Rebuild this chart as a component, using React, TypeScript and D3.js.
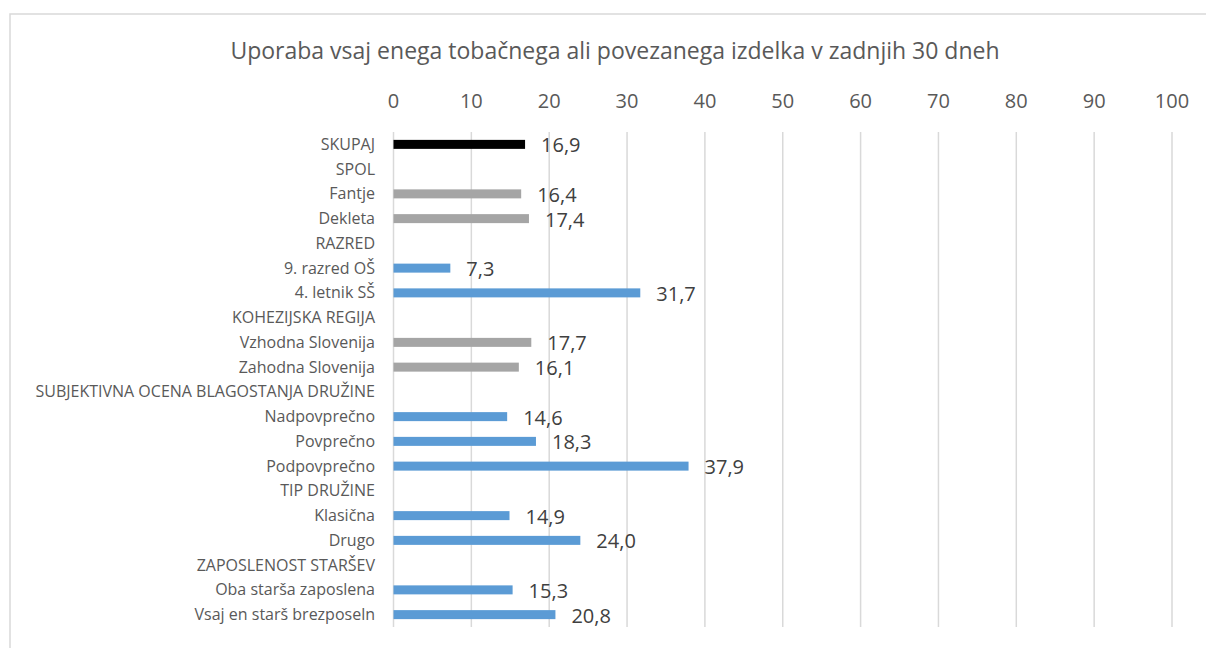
import * as d3 from 'd3';

const title = 'Uporaba vsaj enega tobačnega ali povezanega izdelka v zadnjih 30 dneh';

const categories = [
  'SKUPAJ', 'SPOL', 'Fantje', 'Dekleta', 'RAZRED', '9. razred OŠ', '4. letnik SŠ',
  'KOHEZIJSKA REGIJA', 'Vzhodna Slovenija', 'Zahodna Slovenija',
  'SUBJEKTIVNA OCENA BLAGOSTANJA DRUŽINE', 'Nadpovprečno', 'Povprečno', 'Podpovprečno',
  'TIP DRUŽINE', 'Klasična', 'Drugo', 'ZAPOSLENOST STARŠEV',
  'Oba starša zaposlena', 'Vsaj en starš brezposeln',
];

const values: (number | null)[] = [
  16.9, null, 16.4, 17.4, null, 7.3, 31.7,
  null, 17.7, 16.1,
  null, 14.6, 18.3, 37.9,
  null, 14.9, 24.0, null,
  15.3, 20.8,
];

// colour group of each row: total, grey, blue
const groups = [
  'total', '', 'grey', 'grey', '', 'blue', 'blue',
  '', 'grey', 'grey',
  '', 'blue', 'blue', 'blue',
  '', 'blue', 'blue', '',
  'blue', 'blue',
];

const ticks = [0, 10, 20, 30, 40, 50, 60, 70, 80, 90, 100];

const colors = { total: '#000000', grey: '#a5a5a5', blue: '#5b9bd5' };

const App = () => {
  const width = 1206;
  const height = 648;
  const left = 393.5;
  const right = 1172;
  const top = 132;
  const bottom = 627;

  const xScale = d3.scaleLinear().domain([0, 100]).range([left, right]);
  const yScale = d3.scaleBand().domain(categories).range([top, bottom]).paddingInner(0);
  const barH = 9;
  const font = "'Open Sans', sans-serif";
  const fmt = (v: number) => v.toFixed(1).replace('.', ',');

  return (
    <div style={{ position: 'fixed', left: 0, top: 0 }}>
      <svg width={width} height={height} style={{ display: 'block', background: '#fff' }}>
        <rect x={10} y={14} width={1210} height={700} fill="#fff" stroke="#d9d9d9" strokeWidth={1.5} />
        <text x={615} y={59} textAnchor="middle" fontFamily={font} fontSize={23} fill="#595959">
          {title}
        </text>
        {ticks.map((t) => (
          <g key={t}>
            <line x1={xScale(t)} x2={xScale(t)} y1={top} y2={bottom} stroke="#d9d9d9" strokeWidth={1.5} />
            <text x={xScale(t)} y={108} textAnchor="middle" fontFamily={font} fontSize={20} fill="#595959">
              {t}
            </text>
          </g>
        ))}
        {categories.map((c) => (
          <text
            key={c}
            x={375}
            y={yScale(c)! + yScale.bandwidth() / 2}
            dy="0.35em"
            textAnchor="end"
            fontFamily={font}
            fontSize={16}
            fill="#595959"
          >
            {c}
          </text>
        ))}
        {categories.map((c, i) => {
          const v = values[i];
          if (v == null) return null;
          const cy = yScale(c)! + yScale.bandwidth() / 2;
          return (
            <g key={c}>
              <rect
                x={xScale(0)}
                y={cy - barH / 2}
                width={xScale(v) - xScale(0)}
                height={barH}
                fill={colors[groups[i]]}
              />
              <text
                x={xScale(v) + 16}
                y={cy + 1}
                dy="0.35em"
                fontFamily={font}
                fontSize={20}
                fill="#404040"
              >
                {fmt(v)}
              </text>
            </g>
          );
        })}
      </svg>
    </div>
  );
};

export default App;
